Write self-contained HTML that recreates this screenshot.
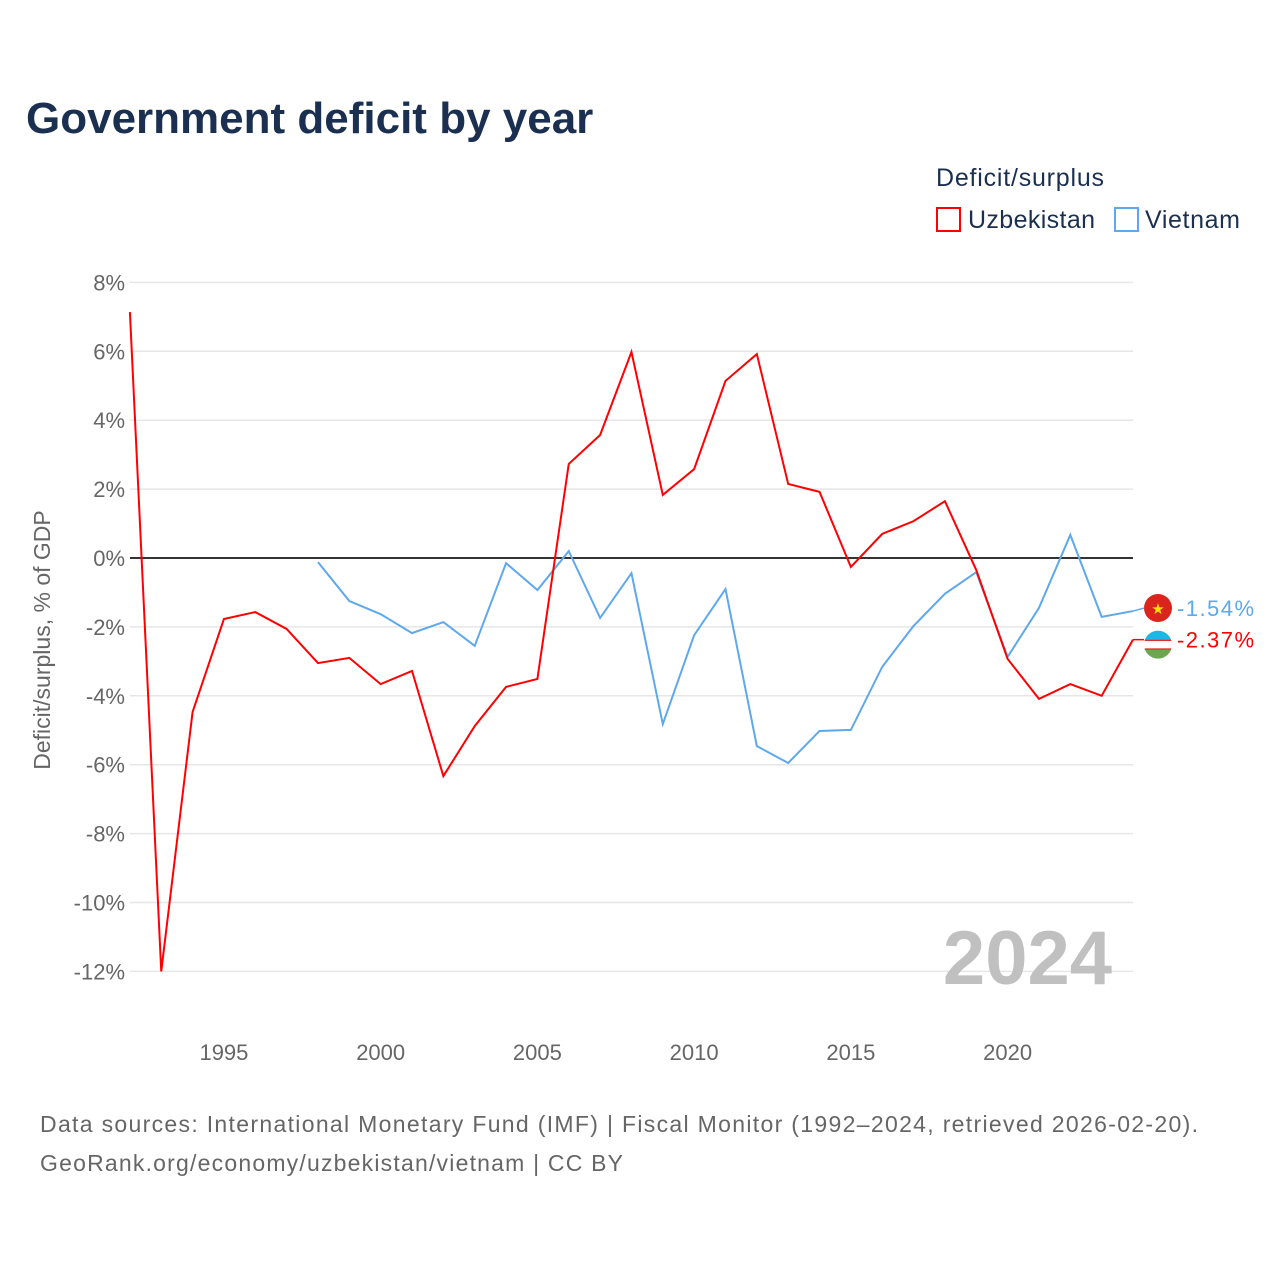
<!DOCTYPE html>
<html><head><meta charset="utf-8">
<style>
body{margin:0;background:#fff;font-family:"Liberation Sans",sans-serif;}
#wrap{position:relative;width:1280px;height:1280px;overflow:hidden;}
</style></head>
<body>
<div id="wrap">
<svg id="chart" width="1280" height="1280"></svg>
</div>
<script>
const years = [];
for (let y = 1992; y <= 2024; y++) years.push(y);
const uzbekistan = [7.14,-12.0,-4.47,-1.77,-1.57,-2.06,-3.05,-2.9,-3.66,-3.28,-6.33,-4.88,-3.74,-3.51,2.73,3.57,5.98,1.83,2.58,5.14,5.92,2.15,1.92,-0.26,0.70,1.07,1.65,-0.35,-2.93,-4.09,-3.66,-4.0,-2.37];
const vietnamYears = [1998,1999,2000,2001,2002,2003,2004,2005,2006,2007,2008,2009,2010,2011,2012,2013,2014,2015,2016,2017,2018,2019,2020,2021,2022,2023,2024];
const vietnam = [-0.12,-1.25,-1.63,-2.18,-1.86,-2.55,-0.15,-0.93,0.2,-1.74,-0.44,-4.82,-2.24,-0.9,-5.46,-5.95,-5.02,-4.99,-3.16,-1.97,-1.04,-0.41,-2.87,-1.45,0.67,-1.71,-1.54];
const yTicks = [8,6,4,2,0,-2,-4,-6,-8,-10,-12];
const xTicks = [1995,2000,2005,2010,2015,2020];

const NS = "http://www.w3.org/2000/svg";
const svg = document.getElementById('chart');
const X = y => 129.9 + (y - 1992) * (1133 - 129.9) / 32;
const Y = v => 558 - v * 34.45;
function el(tag, attrs, text, parent){
  const e = document.createElementNS(NS, tag);
  for (const k in attrs) e.setAttribute(k, attrs[k]);
  if (text !== undefined && text !== null) e.textContent = text;
  (parent || svg).appendChild(e);
  return e;
}
let t;
t = el('text',{x:26,y:133,'font-size':44,'font-weight':'bold',fill:'#1b3050'},'Government deficit by year');



t = el('text',{x:936,y:186,'font-size':25,fill:'#1b3050',textLength:168},'Deficit/surplus');


t = el('rect',{x:937,y:208,width:23,height:23,fill:'none',stroke:'#ff0000','stroke-width':2});


t = el('text',{x:968,y:228,'font-size':25,fill:'#1b3050',textLength:127},'Uzbekistan');


t = el('rect',{x:1115,y:208,width:23,height:23,fill:'none',stroke:'#5ea8ee','stroke-width':2});


t = el('text',{x:1145,y:228,'font-size':25,fill:'#1b3050',textLength:95},'Vietnam');



yTicks.forEach(v=>{
  const g = el('line',{x1:130,x2:1133,y1:Y(v),y2:Y(v),stroke:v===0?'#333':'#e6e6e6','stroke-width':v===0?2:1.5});
  
  
  const l = el('text',{x:125,y:Y(v)+8,'font-size':22,fill:'#666','text-anchor':'end'},v+'%');
  
  
});
xTicks.forEach(v=>{
  const l = el('text',{x:X(v),y:1060,'font-size':22,fill:'#666','text-anchor':'middle'},String(v));
  
  
});
t = el('text',{x:0,y:0,'font-size':23,fill:'#666','text-anchor':'middle',transform:'translate(50,640) rotate(-90)'},'Deficit/surplus, % of GDP');



t = el('text',{x:1112,y:984,'font-size':76,'font-weight':'bold',fill:'#c0c0c0','text-anchor':'end'},'2024');



let p = el('polyline',{points:vietnamYears.map((y,i)=>X(y)+','+Y(vietnam[i])).join(' '),fill:'none',stroke:'#5ea8ee','stroke-width':2});


p = el('polyline',{points:years.map((y,i)=>X(y)+','+Y(uzbekistan[i])).join(' '),fill:'none',stroke:'#ff0000','stroke-width':2});



const vLast = vietnam[vietnam.length-1], uLast = uzbekistan[uzbekistan.length-1];
const vy = Y(vLast) - 3, uy = Y(uLast) + 5;
t = el('line',{x1:1133,y1:Y(vLast),x2:1144,y2:vy,stroke:'#5ea8ee','stroke-width':1.5});


t = el('circle',{cx:1158,cy:vy,r:14,fill:'#da251d'});


t = el('text',{x:1158,y:vy+6,'font-size':15,fill:'#ffdd00','text-anchor':'middle'},'★');


const defs = el('defs',{});
const cp = el('clipPath',{id:'uzclip'},null,defs);
el('circle',{cx:1158,cy:uy,r:14},null,cp);
const g = el('g',{'clip-path':'url(#uzclip)'});


el('rect',{x:1144,y:uy-14,width:28,height:9,fill:'#1eb5e8'},null,g);
el('rect',{x:1144,y:uy-5,width:28,height:10,fill:'#fff'},null,g);
el('rect',{x:1144,y:uy-5,width:28,height:1.2,fill:'#e00'},null,g);
el('rect',{x:1144,y:uy+3.8,width:28,height:1.2,fill:'#e00'},null,g);
el('rect',{x:1144,y:uy+5,width:28,height:9,fill:'#6aa84f'},null,g);
t = el('line',{x1:1133,y1:Y(uLast),x2:1144,y2:Y(uLast),stroke:'#ff0000','stroke-width':1.5});


t = el('text',{x:1177,y:vy+8,'font-size':22,fill:'#5ea8ee',textLength:77},vLast.toFixed(2)+'%');


t = el('text',{x:1177,y:Y(uLast)+8,'font-size':22,fill:'#ff0000',textLength:77},uLast.toFixed(2)+'%');



t = el('text',{x:40,y:1132,'font-size':23,fill:'#666',textLength:1158},'Data sources: International Monetary Fund (IMF) | Fiscal Monitor (1992–2024, retrieved 2026-02-20).');


t = el('text',{x:40,y:1171,'font-size':23,fill:'#666',textLength:583},'GeoRank.org/economy/uzbekistan/vietnam | CC BY');


</script>
</body></html>
